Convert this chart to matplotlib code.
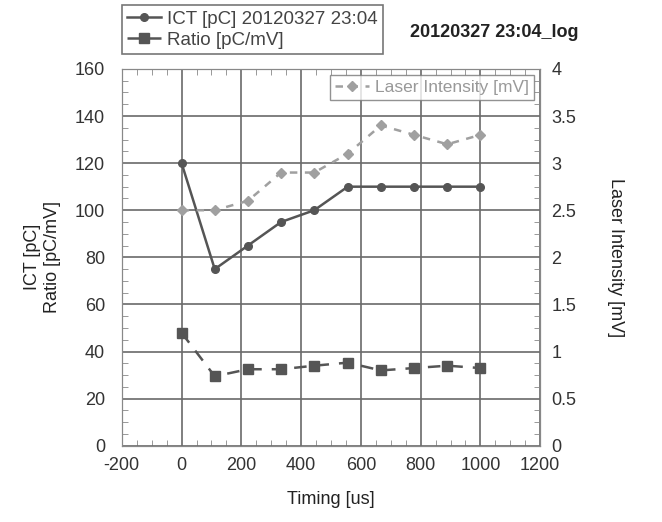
import matplotlib.pyplot as plt
from matplotlib.ticker import MultipleLocator

timing = [0, 111, 222, 333, 444, 556, 667, 778, 889, 1000]
ict = [120, 75, 85, 95, 100, 110, 110, 110, 110, 110]
ratio = [48, 29.5, 32.5, 32.5, 34, 35.3, 32, 33, 34, 33]
laser = [2.5, 2.5, 2.6, 2.9, 2.9, 3.1, 3.4, 3.3, 3.2, 3.3]

plt.rcParams['font.family'] = ['Liberation Sans', 'DejaVu Sans']
plt.rcParams['font.size'] = 13
plt.rcParams['axes.unicode_minus'] = False

fig = plt.figure(figsize=(6.62, 5.22), dpi=100)
ax = fig.add_axes([0.184, 0.146, 0.632, 0.722])
ax2 = ax.twinx()

l1, = ax.plot(timing, ict, '-o', color='#555555', lw=1.8, ms=5.5, label='ICT [pC] 20120327 23:04')
l2, = ax.plot(timing, ratio, '--s', color='#555555', lw=1.8, ms=7, dashes=(5, 4), label='Ratio [pC/mV]')
l3, = ax2.plot(timing, laser, '--D', color='#a0a0a0', lw=1.8, ms=5.5, dashes=(3, 3), label='Laser Intensity [mV]')

ax.set_xlim(-200, 1200)
ax.set_ylim(0, 160)
ax2.set_ylim(0, 4)
ax.xaxis.set_major_locator(MultipleLocator(200))
ax.xaxis.set_minor_locator(MultipleLocator(50))
ax.yaxis.set_major_locator(MultipleLocator(20))
ax.yaxis.set_minor_locator(MultipleLocator(5))
ax2.set_yticks([0, 0.5, 1, 1.5, 2, 2.5, 3, 3.5, 4])
ax2.set_yticklabels(['0', '0.5', '1', '1.5', '2', '2.5', '3', '3.5', '4'])
ax2.yaxis.set_minor_locator(MultipleLocator(0.125))

ax.grid(True, which='major', color='#6a6a6a', lw=1.2)
ax.set_axisbelow(True)
for a in (ax, ax2):
    a.tick_params(which='both', direction='in', colors='#333333', labelsize=13)
    a.tick_params(which='major', length=0)
    a.tick_params(which='minor', length=4, color='#888888')
    for s in a.spines.values():
        s.set_color('#888888')
ax.tick_params(which='both', top=True, bottom=True)
ax.tick_params(axis='x', pad=8)
ax.tick_params(axis='y', pad=12)
ax2.tick_params(axis='y', pad=8)

ax.set_xlabel('Timing [us]', fontsize=13, color='#222222', labelpad=12)
ax.set_ylabel('ICT [pC]\nRatio [pC/mV]', fontsize=13, color='#222222', labelpad=10)
ax2.set_ylabel('Laser Intensity [mV]', fontsize=13, color='#222222', rotation=270, labelpad=34)

leg1 = fig.legend(handles=[l1, l2], loc='upper left', bbox_to_anchor=(0.184, 0.99),
                  borderaxespad=0, frameon=True, fancybox=False, edgecolor='#555555', fontsize=13.5,
                  handlelength=1.8, borderpad=0.3, labelspacing=0.2, handletextpad=0.3)
leg1.get_frame().set_linewidth(1.2)
for t in leg1.get_texts():
    t.set_color('#444444')

leg2 = ax2.legend(handles=[l3], loc='upper right', bbox_to_anchor=(0.985, 0.985),
                  borderaxespad=0, frameon=True, fancybox=False, edgecolor='#777777', fontsize=12.5,
                  handlelength=2.0, borderpad=0.3, handletextpad=0.3)
leg2.get_frame().set_linewidth(1.0)
for t in leg2.get_texts():
    t.set_color('#999999')

fig.text(0.62, 0.93, '20120327 23:04_log', fontsize=13, fontweight='bold', color='#222222')

fig.savefig('out.png', dpi=100)
